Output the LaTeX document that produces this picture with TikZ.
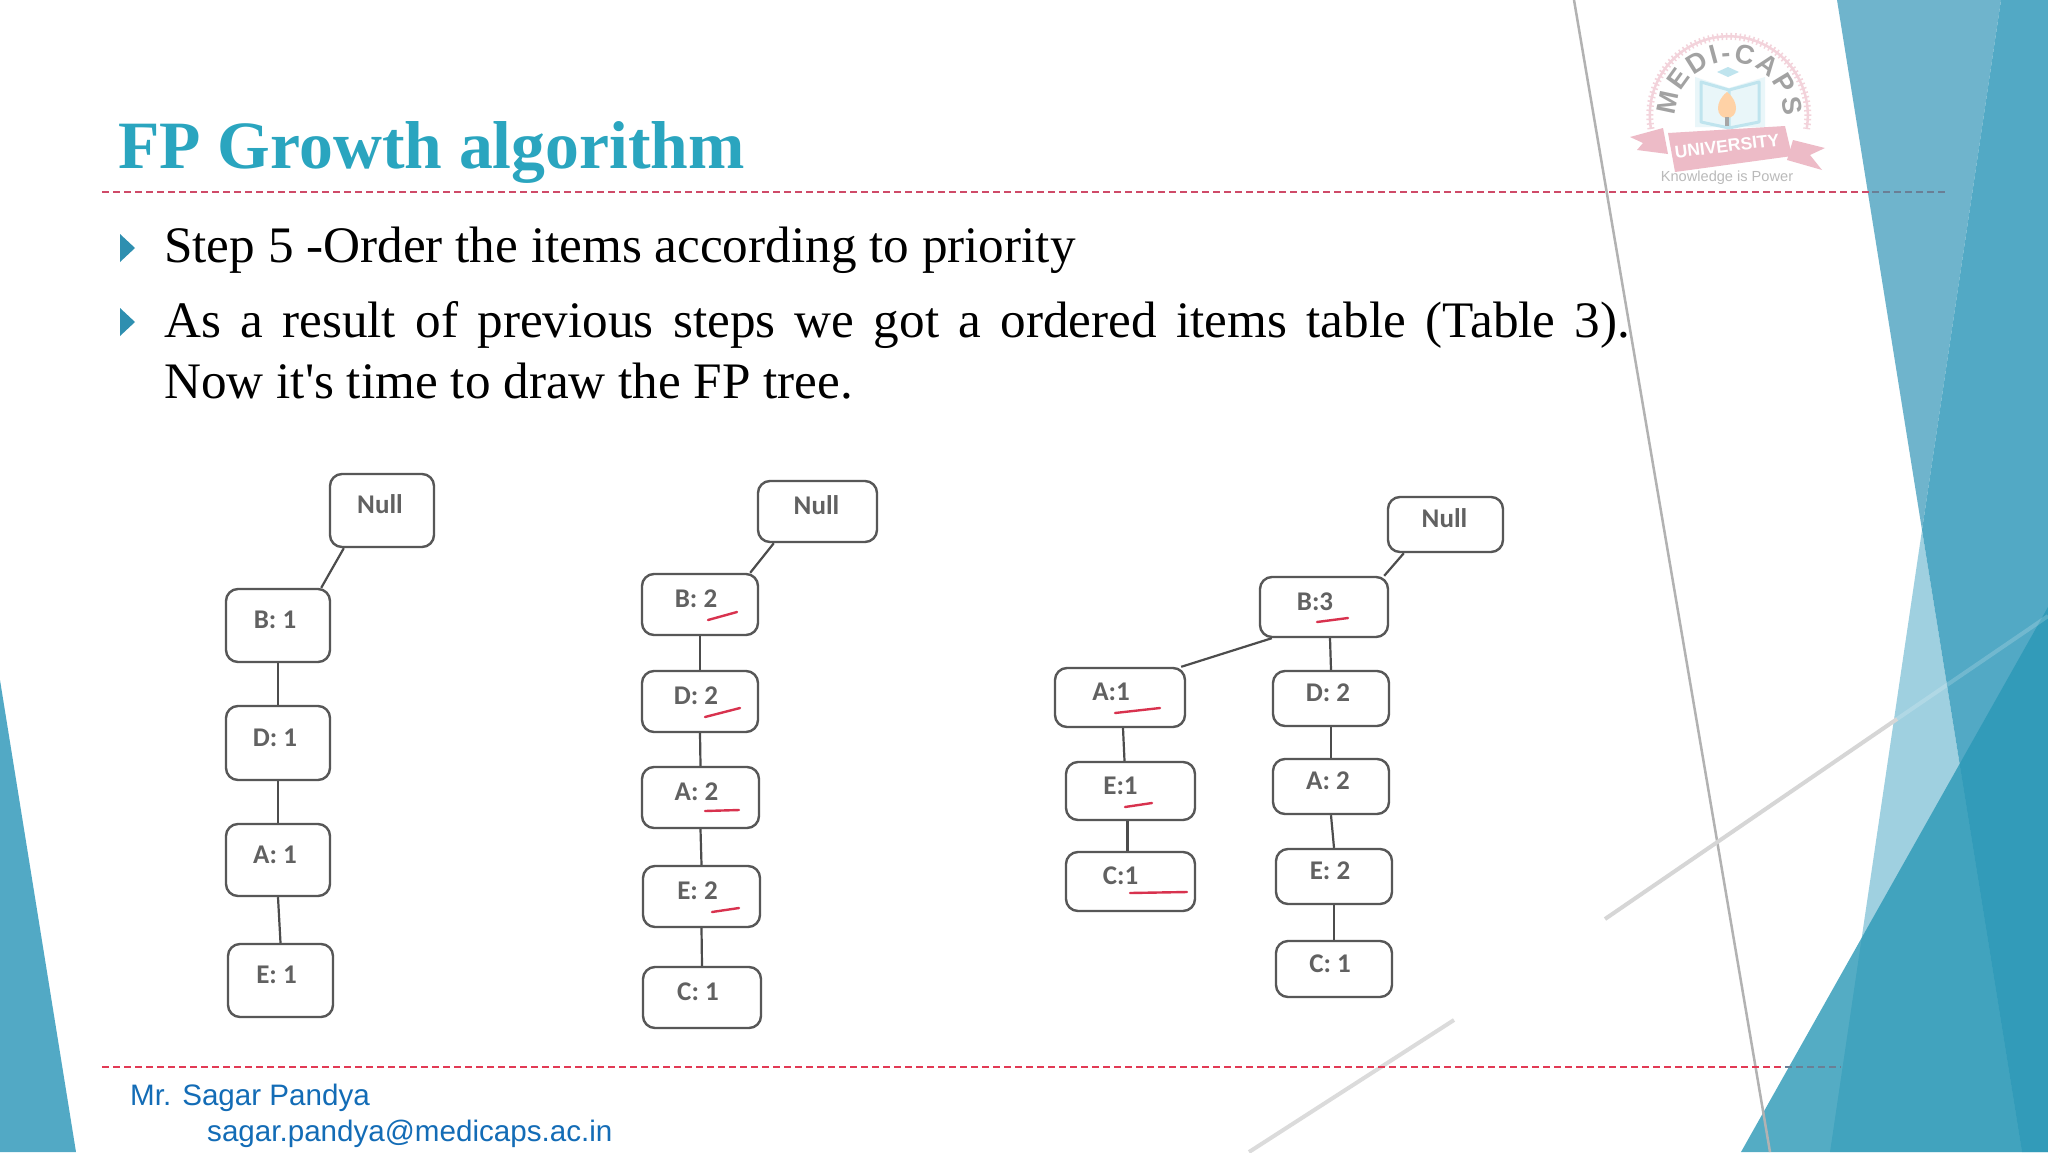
\documentclass[tikz,border=0pt]{standalone}
\usepackage{fontspec}
\setmainfont{Liberation Serif}
\newfontfamily\armfont{Liberation Sans}
\newfontfamily\calfont{Carlito}
\font\plainquote="Liberation Serif" at 51.2pt
\usetikzlibrary{decorations.text}
\definecolor{tealA}{HTML}{6FB4CC}
\definecolor{tealB}{HTML}{9FD0E0}
\definecolor{tealC}{HTML}{52A9C5}
\definecolor{tealD}{HTML}{2A98B6}
\definecolor{titleteal}{HTML}{2AA5BF}
\definecolor{bulletteal}{HTML}{2E8FB0}
\definecolor{dashred}{HTML}{CF4A68}
\definecolor{footred}{HTML}{E23A55}
\definecolor{dashgrey}{HTML}{6A7F95}
\definecolor{footblue}{HTML}{136CB6}
\definecolor{inkred}{HTML}{D8324E}
\definecolor{logopink}{HTML}{EDBBC7}
\definecolor{logoring}{HTML}{F3D3DB}
\definecolor{logogrey}{HTML}{A2A2A2}
\definecolor{logoblue}{HTML}{BFE4EE}
\tikzset{
  treebox/.style={draw=black!66,line width=2.4pt,rounded corners=12pt,fill=white,inner sep=0pt,text=black!62,font=\calfont\bfseries\fontsize{27}{30}\selectfont},
  treeline/.style={draw=black!70,line width=2.2pt},
  inkmark/.style={draw=inkred,line width=2.4pt,line cap=round},
  bodytext/.style={anchor=base west,inner sep=0pt,font=\fontsize{51.2}{60}\selectfont,text=black},
  foottext/.style={anchor=base west,inner sep=0pt,font=\armfont\fontsize{29.6}{36}\selectfont,text=footblue},
  bullet/.style={fill=bulletteal,draw=none},
  rule/.style={line width=2pt,dash pattern=on 7pt off 4pt},
}
\newcommand{\fpnode}[7]{%
  \pgfmathsetmacro{\fpw}{#4-#2}\pgfmathsetmacro{\fph}{#5-#3}%
  \node[treebox,minimum width=\fpw pt,minimum height=\fph pt] (#1) at ({(#2+#4)/2},{(#3+#5)/2})
    {\raisebox{-3pt}[0pt][0pt]{\makebox[0pt][c]{\kern #6pt #7}}};}
\begin{document}
\begin{tikzpicture}[x=1pt,y=-1pt]
\useasboundingbox (0,0) rectangle (2048,1152);
\fill[white] (0,0) rectangle (2048,1152);
% teal background
\fill[tealA] (1837,0) -- (2001,0) -- (1922,530) -- cycle;
\fill[tealB] (1922,530) -- (2022,1152) -- (1830,1152) -- cycle;
\fill[tealC] (2001,0) -- (2048,0) -- (2048,1152) -- (2022,1152) -- (1922,530) -- cycle;
\fill[tealD,fill opacity=.8] (1741,1152) -- (2048,607) -- (2048,1152) -- cycle;
\fill[tealC] (0,680) -- (76,1152) -- (0,1152) -- cycle;
% grey decorative lines
\draw[black!30,line width=2.5pt] (1574,0) -- (1770,1152);
\draw[black!16,line width=4pt] (1605,919) -- (1897,719);
\draw[white,opacity=.18,line width=4pt] (1897,719) -- (2048,616);
\draw[black!14,line width=4pt] (1454,1020) -- (1249,1152);
% logo
\draw[logoring,line width=2.5pt] (1651,129) arc[start angle=170,end angle=370,radius=79];
\draw[logoring,line width=7pt,dash pattern=on 1.5pt off 3pt] (1651,129) arc[start angle=170,end angle=370,radius=79];
\fill[logoblue!35] (1729,88) -- (1695,77) -- (1695,127) -- (1765,127) -- (1765,77) -- cycle;
\draw[logoblue,line width=3pt,line join=round] (1729,90) -- (1701,82) -- (1701,122) -- (1729,128) -- (1759,122) -- (1759,82) -- cycle (1729,90) -- (1729,128);
\fill[logoblue] (1728,67) -- (1739,72) -- (1728,77) -- (1717,72) -- cycle;
\fill[orange!35] (1727,92) .. controls (1740,102) and (1738,118) .. (1727,118) .. controls (1716,118) and (1714,102) .. (1727,92);
\fill[black!35] (1725,117) rectangle (1729,126);
\path[decorate,decoration={text along path,text align=fit to path,
  text={|\armfont\bfseries\fontsize{27}{27}\selectfont\color{logogrey}|MEDI-CAPS}}]
  (1676,116) arc[start angle=180,end angle=360,radius=54];
\fill[logopink] (1630,137) -- (1663,128) -- (1668,154) -- (1637,150) -- (1643,143) -- cycle;
\fill[logopink] (1793,140) -- (1825,148) -- (1810,155) -- (1822,170) -- (1787,160) -- cycle;
\fill[logopink] (1668,133) -- (1785,126) -- (1792,156) -- (1675,172) -- cycle;
\node[rotate=7,inner sep=0pt,text=white,font=\armfont\bfseries\fontsize{17.5}{20}\selectfont] (logouni) at (1727,146) {UNIVERSITY};
\node[inner sep=0pt,text=black!27,font=\armfont\fontsize{14.6}{18}\selectfont] (logomotto) at (1727,178) {Knowledge is Power};
% title and text
\node[anchor=base west,inner sep=0pt,text=titleteal,font=\bfseries\fontsize{67.7}{72}\selectfont] (title) at (118,168) {FP Growth algorithm};
\draw[dashred,rule] (102,192) -- (1872,192);
\draw[dashgrey,rule] (1872,192) -- (1946,192);
\fill[bullet] (120,234) -- (135,248) -- (120,262) -- cycle;
\node[bodytext] (line1) at (164,262) {Step 5 -Order the items according to priority};
\fill[bullet] (120,308) -- (135,322) -- (120,336) -- cycle;
\node[bodytext] (line2) at (164,337) {\makebox[1466pt][s]{As a result of previous steps we got a ordered items table (Table 3).}};
\node[bodytext] (line3) at (164,398) {Now it{\plainquote'}s time to draw the FP tree.};
% tree 1
\fpnode{aNull}{330}{474}{434}{547}{-4}{Null}
\fpnode{aB}{226}{589}{330}{662}{-6}{B: 1}
\fpnode{aD}{226}{706}{330}{780}{-6}{D: 1}
\fpnode{aA}{226}{824}{330}{896}{-6}{A: 1}
\fpnode{aE}{228}{944}{333}{1017}{-8}{E: 1}
\draw[treeline] ([xshift=15pt]aNull.south west) -- ([xshift=-10pt]aB.north east);
\draw[treeline] (aB.south) -- (aD.north);
\draw[treeline] (aD.south) -- (aA.north);
\draw[treeline] (aA.south) -- (aE.north);
% tree 2
\fpnode{bNull}{758}{481}{877}{542}{-2}{Null}
\fpnode{bB}{642}{574}{758}{635}{-8}{B: 2}
\fpnode{bD}{642}{671}{758}{732}{-8}{D: 2}
\fpnode{bA}{642}{767}{759}{828}{-8}{A: 2}
\fpnode{bE}{643}{866}{760}{927}{-8}{E: 2}
\fpnode{bC}{643}{967}{761}{1028}{-8}{C: 1}
\draw[treeline] ([xshift=17pt]bNull.south west) -- ([xshift=-9pt]bB.north east);
\draw[treeline] (bB.south) -- (bD.north);
\draw[treeline] (bD.south) -- (bA.north);
\draw[treeline] (bA.south) -- (bE.north);
\draw[treeline] (bE.south) -- (bC.north);
\draw[inkmark] (708,620) -- (737,612);
\draw[inkmark] (705,717) -- (740,708);
\draw[inkmark] (705,811) -- (739,810);
\draw[inkmark] (712,912) -- (739,908);
% tree 3
\fpnode{cNull}{1388}{497}{1503}{552}{-2}{Null}
\fpnode{cB}{1260}{577}{1388}{637}{-18}{B:3}
\fpnode{cA}{1055}{668}{1185}{727}{-18}{A:1}
\fpnode{cE}{1066}{762}{1195}{820}{-20}{E:1}
\fpnode{cC}{1066}{852}{1195}{911}{-20}{C:1}
\fpnode{cD}{1273}{671}{1389}{726}{-6}{D: 2}
\fpnode{cAA}{1273}{759}{1389}{814}{-6}{A: 2}
\fpnode{cEE}{1276}{849}{1392}{904}{-8}{E: 2}
\fpnode{cCC}{1276}{941}{1392}{997}{-8}{C: 1}
\draw[treeline] ([xshift=17pt]cNull.south west) -- ([xshift=-5pt]cB.north east);
\draw[treeline] ([xshift=13pt]cB.south west) -- ([xshift=-5pt]cA.north east);
\draw[treeline] ([xshift=6pt]cB.south) -- (cD.north);
\draw[treeline] (cD.south) -- (cAA.north);
\draw[treeline] (cAA.south) -- (cEE.north);
\draw[treeline] (cEE.south) -- (cCC.north);
\draw[treeline] ([xshift=3pt]cA.south) -- ([xshift=-6pt]cE.north);
\draw[treeline] ([xshift=-3pt]cE.south) -- ([xshift=-3pt]cC.north);
\draw[inkmark] (1317,622) -- (1348,618);
\draw[inkmark] (1115,713) -- (1160,708);
\draw[inkmark] (1125,807) -- (1152,803);
\draw[inkmark] (1130,893) -- (1187,892);
% footer
\draw[footred,rule] (102,1067) -- (1785,1067);
\draw[dashgrey,rule] (1785,1067) -- (1841,1067);
\node[foottext] (foot1) at (130,1105) {Mr. Sagar Pandya};
\node[foottext] (foot2) at (207,1141) {sagar.pandya@medicaps.ac.in};
\end{tikzpicture}
\end{document}
